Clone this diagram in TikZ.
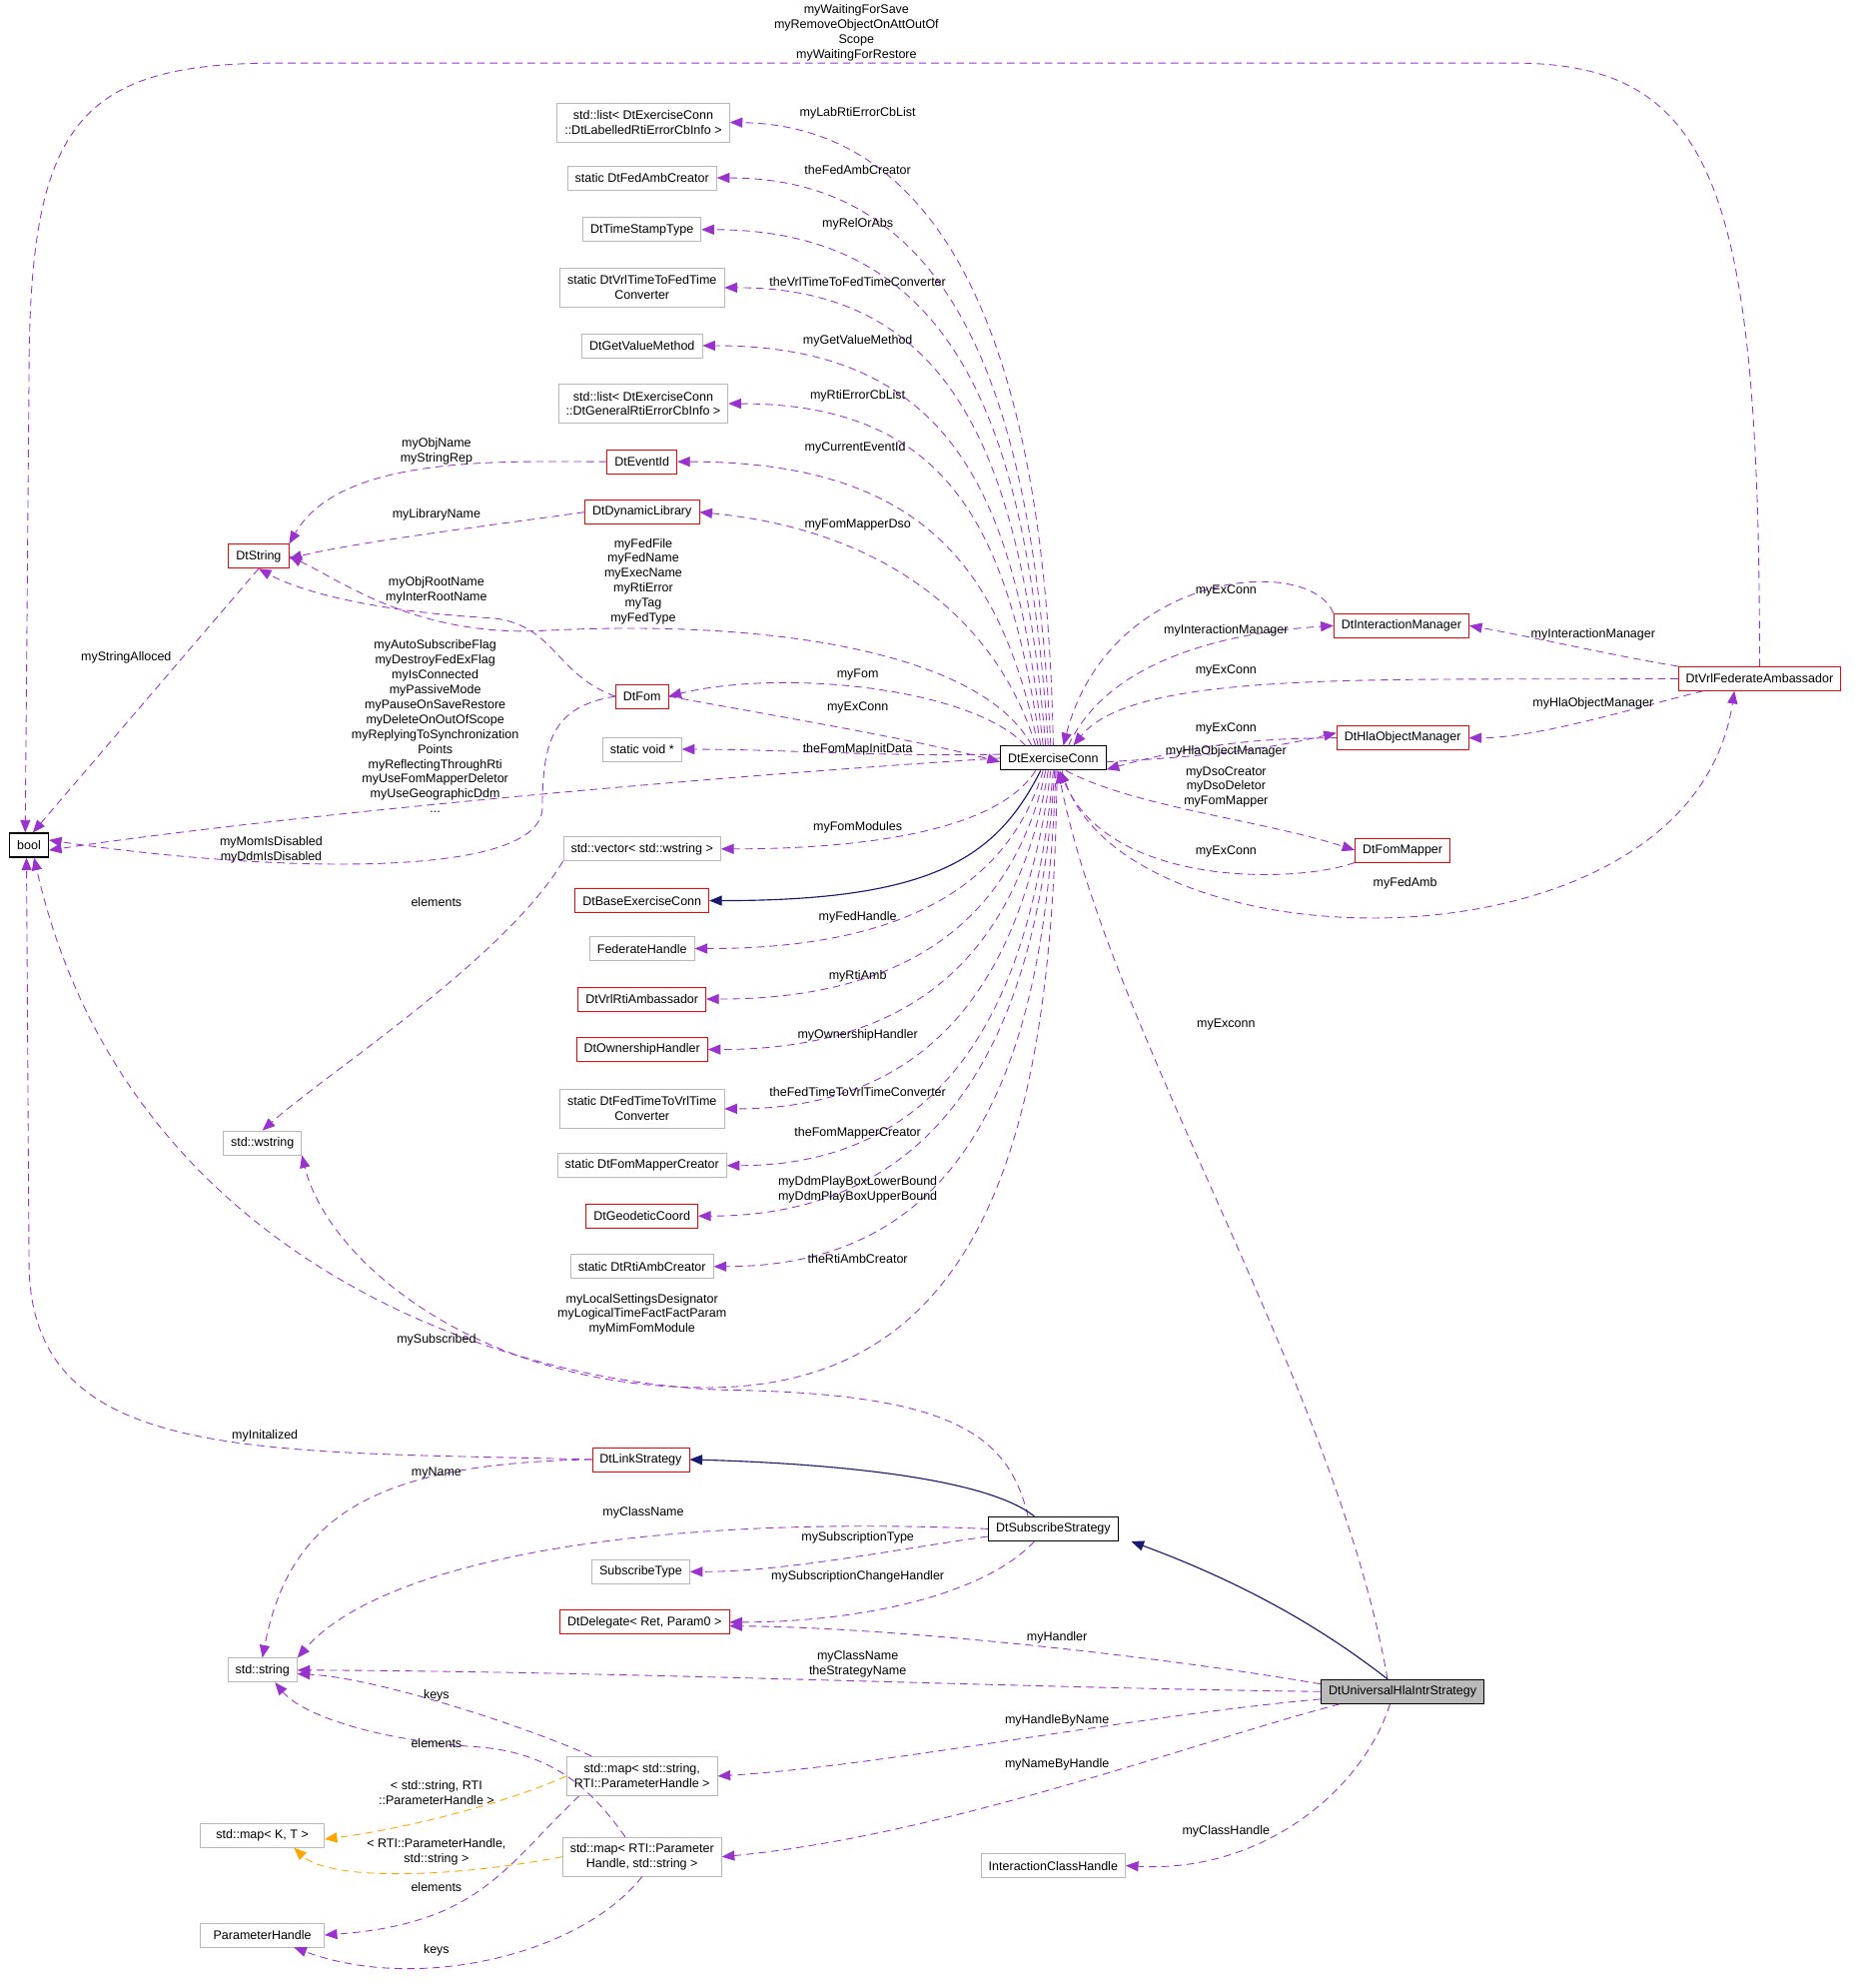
\documentclass[tikz,border=0pt]{standalone}
\usepackage{fontspec}
\setmainfont{Liberation Sans}
\usetikzlibrary{arrows.meta}
\definecolor{usec}{HTML}{9A32CD}
\definecolor{inh}{HTML}{191970}
\definecolor{tpl}{HTML}{FFA500}
\newcommand{\lt}{\textless}
\newcommand{\gt}{\textgreater}
\begin{document}
\begin{tikzpicture}[x=1pt,y=-1pt,
  font=\fontsize{9.9}{11.8}\selectfont,
  box/.style={draw,inner xsep=6pt,inner ysep=0pt,minimum height=19pt,align=center,line width=0.6pt},
  gb/.style={box,draw=black!28},
  rb/.style={box,draw=red},
  kb/.style={box,draw=black,line width=0.9pt},
  lab/.style={align=center,inner sep=0pt},
  use/.style={draw=usec,dash pattern=on 6pt off 4pt,line width=0.7pt,-{Triangle[length=10pt,width=8pt,fill=usec]}},
  inhe/.style={draw=inh,line width=0.9pt,-{Triangle[length=10pt,width=8pt,fill=inh]}},
  tp/.style={draw=tpl,dash pattern=on 6pt off 4pt,line width=0.7pt,-{Triangle[length=10pt,width=8pt,fill=tpl]}}]
\useasboundingbox (0,0) rectangle (1476,1576);
% left
\node[kb] (bool) at (23,670) {bool};
\node[rb] (dts) at (205,441) {DtString};
\node[gb] (ws) at (208,906) {std::wstring};
\node[gb] (sts) at (208,1324) {std::string};
\node[gb,minimum width=98pt] (mk) at (208,1455) {std::map\lt{} K, T \gt};
\node[gb,minimum width=98pt] (ph) at (208,1534) {ParameterHandle};
% middle
\node[gb,minimum height=31pt] (l1) at (510,97) {std::list\lt{} DtExerciseConn\\::DtLabelledRtiErrorCbInfo \gt};
\node[gb] (fac) at (509,141) {static DtFedAmbCreator};
\node[gb] (tst) at (509,182) {DtTimeStampType};
\node[gb,minimum height=31pt] (v2f) at (509,228) {static DtVrlTimeToFedTime\\Converter};
\node[gb] (gvm) at (509,274) {DtGetValueMethod};
\node[gb,minimum height=31pt] (l2) at (510,320) {std::list\lt{} DtExerciseConn\\::DtGeneralRtiErrorCbInfo \gt};
\node[rb] (eid) at (509,366) {DtEventId};
\node[rb] (dl) at (509,406) {DtDynamicLibrary};
\node[rb] (fom) at (509,552) {DtFom};
\node[gb] (sv) at (509,594) {static void *};
\node[gb] (vec) at (509,673) {std::vector\lt{} std::wstring \gt};
\node[rb] (bec) at (509,714) {DtBaseExerciseConn};
\node[gb] (fh) at (509,752) {FederateHandle};
\node[rb] (vra) at (509,792) {DtVrlRtiAmbassador};
\node[rb] (own) at (509,832) {DtOwnershipHandler};
\node[gb,minimum height=31pt] (f2v) at (509,879) {static DtFedTimeToVrlTime\\Converter};
\node[gb] (fmc) at (509,924) {static DtFomMapperCreator};
\node[rb] (geo) at (509,964) {DtGeodeticCoord};
\node[gb] (rac) at (509,1004) {static DtRtiAmbCreator};
\node[rb] (ls) at (508,1157) {DtLinkStrategy};
\node[gb] (st) at (508,1246) {SubscribeType};
\node[rb] (dd) at (511,1286) {DtDelegate\lt{} Ret, Param0 \gt};
\node[gb,minimum height=31pt] (m1) at (509,1408) {std::map\lt{} std::string,\\RTI::ParameterHandle \gt};
\node[gb,minimum height=31pt] (m2) at (509,1472) {std::map\lt{} RTI::Parameter\\Handle, std::string \gt};
% right
\node[kb] (ec) at (835,601) {DtExerciseConn};
\node[rb] (im) at (1111,496) {DtInteractionManager};
\node[rb] (hom) at (1112,585) {DtHlaObjectManager};
\node[rb] (fm) at (1112,674) {DtFomMapper};
\node[rb] (fa) at (1395,538) {DtVrlFederateAmbassador};
\node[kb] (ss) at (835,1212) {DtSubscribeStrategy};
\node[kb,fill=black!27] (u) at (1112,1341) {DtUniversalHlaIntrStrategy};
\node[gb] (ich) at (835,1479) {InteractionClassHandle};

% fan from ec up
\draw[use] ([xshift=0pt]ec.north) .. controls (830,300) and (760,100) .. (l1.east);
\draw[use] ([xshift=-2pt]ec.north) .. controls (820,320) and (760,141) .. (fac.east);
\draw[use] ([xshift=-4pt]ec.north) .. controls (815,340) and (760,182) .. (tst.east);
\draw[use] ([xshift=-6pt]ec.north) .. controls (810,370) and (760,228) .. (v2f.east);
\draw[use] ([xshift=-8pt]ec.north) .. controls (805,400) and (760,274) .. (gvm.east);
\draw[use] ([xshift=-10pt]ec.north) .. controls (800,430) and (760,320) .. (l2.east);
\draw[use] ([xshift=-12pt]ec.north) .. controls (795,460) and (740,366) .. (eid.east);
\draw[use] ([xshift=-14pt]ec.north) .. controls (790,490) and (700,420) .. (dl.east);
\draw[use] ([xshift=-17pt]ec.north) .. controls (780,520) and (620,490) .. (430,500) .. controls (330,505) and (270,460) .. (dts.east);
\draw[use] ([xshift=-22pt]ec.north) .. controls (770,545) and (620,530) .. (fom.east);
\draw[use] (fom.east) .. controls (600,565) and (720,585) .. ([yshift=-3pt]ec.west);
\draw[use] ([yshift=3pt]ec.west) .. controls (700,600) and (620,594) .. (sv.east);
\draw[use] (ec.west) .. controls (500,620) and (200,650) .. ([yshift=-4pt]bool.east);
% fan down
\draw[use] ([xshift=-14pt]ec.south) .. controls (790,660) and (680,673) .. (vec.east);
\draw[inhe] ([xshift=-10pt]ec.south) .. controls (790,680) and (740,714) .. (bec.east);
\draw[use] ([xshift=-8pt]ec.south) .. controls (800,700) and (720,752) .. (fh.east);
\draw[use] ([xshift=-6pt]ec.south) .. controls (805,720) and (730,792) .. (vra.east);
\draw[use] ([xshift=-4pt]ec.south) .. controls (810,740) and (740,832) .. (own.east);
\draw[use] ([xshift=-2pt]ec.south) .. controls (815,760) and (750,879) .. (f2v.east);
\draw[use] ([xshift=0pt]ec.south) .. controls (820,780) and (760,924) .. (fmc.east);
\draw[use] ([xshift=1pt]ec.south) .. controls (825,800) and (760,964) .. (geo.east);
\draw[use] ([xshift=2pt]ec.south) .. controls (830,840) and (770,1004) .. (rac.east);
\draw[use] ([xshift=3pt]ec.south) .. controls (835,900) and (780,1100) .. (560,1100) .. controls (380,1100) and (260,1000) .. (ws.south east);
% left edges
\draw[use] (eid.west) .. controls (400,366) and (270,360) .. (dts.north east);
\draw[use] (dl.west) .. controls (400,415) and (280,430) .. ([yshift=-2pt]dts.east);
\draw[use] (fom.west) .. controls (440,535) and (440,495) .. (390,490) .. controls (300,485) and (240,470) .. (dts.south);
\draw[use] (fom.west) .. controls (440,560) and (430,585) .. (430,640) .. controls (430,700) and (200,690) .. ([yshift=4pt]bool.east);
\draw[use] (dts.south) -- ([xshift=3pt]bool.north);
\draw[use] (vec.south west) .. controls (400,760) and (260,850) .. (ws.north);
\draw[use] (fa.north) .. controls (1395,150) and (1360,50) .. (1200,50) -- (220,50) .. controls (60,50) and (23,100) .. (23,300) -- ([xshift=-3pt]bool.north);
% right edges
\draw[use] ([xshift=12pt]ec.north) .. controls (880,520) and (980,501) .. (im.west);
\draw[use] (im.north west) .. controls (1040,440) and (880,450) .. ([xshift=8pt]ec.north);
\draw[use] ([yshift=-3pt]ec.east) .. controls (950,600) and (1000,595) .. ([yshift=4pt]hom.west);
\draw[use] (hom.west) .. controls (1000,585) and (950,590) .. ([yshift=-9pt]ec.east);
\draw[use] ([xshift=10pt]ec.south) .. controls (900,640) and (1000,650) .. (fm.west);
\draw[use] (fm.south west) .. controls (1030,700) and (880,705) .. ([xshift=5pt]ec.south);
\draw[use] (fa.west) .. controls (1100,540) and (900,530) .. ([xshift=16pt]ec.north);
\draw[use] (fa.north west) .. controls (1280,520) and (1220,506) .. (im.east);
\draw[use] ([xshift=20pt]fa.south west) .. controls (1300,560) and (1220,585) .. (hom.east);
\draw[use] ([xshift=7pt]ec.south) .. controls (880,770) and (1340,780) .. ([xshift=-20pt]fa.south);
\draw[use] ([xshift=-12pt]u.north) .. controls (1060,1100) and (880,820) .. ([xshift=4pt]ec.south);
% bottom
\draw[use] ([xshift=-20pt]ss.north) .. controls (800,1140) and (760,1105) .. (580,1102) .. controls (400,1098) and (100,1000) .. ([xshift=4pt]bool.south);
\draw[use] (ls.west) .. controls (200,1150) and (23,1160) .. (23,1000) -- ([xshift=-2pt]bool.south);
\draw[inhe] ([xshift=-15pt]ss.north) .. controls (780,1170) and (650,1160) .. (ls.east);
\draw[inhe] ([xshift=-12pt]u.north) .. controls (1060,1300) and (1000,1260) .. ([xshift=10pt]ss.south east);
\draw[use] (ls.west) .. controls (300,1160) and (230,1200) .. (sts.north);
\draw[use] (ss.west) .. controls (500,1200) and (300,1240) .. (sts.north east);
\draw[use] ([yshift=-6pt]ss.west) .. controls (700,1230) and (620,1246) .. (st.east);
\draw[use] ([xshift=-15pt]ss.south) .. controls (780,1265) and (680,1286) .. (dd.east);
\draw[use] ([yshift=6pt]u.west) .. controls (900,1310) and (700,1290) .. ([yshift=-3pt]dd.east);
\draw[use] (u.west) .. controls (800,1338) and (500,1325) .. (sts.east);
\draw[use] ([yshift=-6pt]u.west) .. controls (900,1360) and (700,1400) .. (m1.east);
\draw[use] ([xshift=-50pt]u.south) .. controls (950,1380) and (750,1455) .. (m2.east);
\draw[use] ([xshift=-10pt]u.south) .. controls (1080,1420) and (1000,1485) .. (ich.east);
\draw[use] ([xshift=20pt]m1.north west) .. controls (420,1370) and (300,1330) .. ([yshift=-3pt]sts.east);
\draw[use] ([xshift=50pt]m2.north west) .. controls (470,1420) and (440,1390) .. (380,1385) .. controls (300,1380) and (240,1360) .. ([xshift=10pt]sts.south);
\draw[tp] (m1.west) .. controls (400,1430) and (320,1450) .. ([yshift=-3pt]mk.east);
\draw[tp] (m2.west) .. controls (350,1490) and (260,1490) .. ([xshift=25pt]mk.south);
\draw[use] ([xshift=10pt]m1.south west) .. controls (400,1480) and (380,1525) .. (ph.east);
\draw[use] (m2.south) .. controls (460,1550) and (330,1580) .. ([xshift=25pt]ph.south);

% labels
\node[lab] (a1) at (680,90) {myLabRtiErrorCbList};
\node[lab] (a2) at (680,135) {theFedAmbCreator};
\node[lab] (a3) at (680,178) {myRelOrAbs};
\node[lab] (a4) at (680,223) {theVrlTimeToFedTimeConverter};
\node[lab] (a5) at (680,270) {myGetValueMethod};
\node[lab] (a6) at (680,314) {myRtiErrorCbList};
\node[lab] (a7) at (678,355) {myCurrentEventId};
\node[lab] (a8) at (680,416) {myFomMapperDso};
\node[lab] (a9) at (510,461) {myFedFile\\myFedName\\myExecName\\myRtiError\\myTag\\myFedType};
\node[lab] (a10) at (680,535) {myFom};
\node[lab] (a11) at (680,561) {myExConn};
\node[lab] (a12) at (680,594) {theFomMapInitData};
\node[lab] (a13) at (345,576) {myAutoSubscribeFlag\\myDestroyFedExFlag\\myIsConnected\\myPassiveMode\\myPauseOnSaveRestore\\myDeleteOnOutOfScope\\myReplyingToSynchronization\\Points\\myReflectingThroughRti\\myUseFomMapperDeletor\\myUseGeographicDdm\\...};
\node[lab] (a14) at (680,656) {myFomModules};
\node[lab] (a15) at (680,727) {myFedHandle};
\node[lab] (a16) at (680,774) {myRtiAmb};
\node[lab] (a17) at (680,821) {myOwnershipHandler};
\node[lab] (a18) at (680,866) {theFedTimeToVrlTimeConverter};
\node[lab] (a19) at (680,898) {theFomMapperCreator};
\node[lab] (a20) at (680,943) {myDdmPlayBoxLowerBound\\myDdmPlayBoxUpperBound};
\node[lab] (a21) at (680,998) {theRtiAmbCreator};
\node[lab] (a22) at (509,1042) {myLocalSettingsDesignator\\myLogicalTimeFactFactParam\\myMimFomModule};
\node[lab] (a23) at (346,358) {myObjName\\myStringRep};
\node[lab] (a24) at (346,408) {myLibraryName};
\node[lab] (a25) at (346,468) {myObjRootName\\myInterRootName};
\node[lab] (a26) at (215,674) {myMomIsDisabled\\myDdmIsDisabled};
\node[lab] (a27) at (100,521) {myStringAlloced};
\node[lab] (a28) at (346,715) {elements};
\node[lab] (a29) at (679,26) {myWaitingForSave\\myRemoveObjectOnAttOutOf\\Scope\\myWaitingForRestore};
\node[lab] (a30) at (972,468) {myExConn};
\node[lab] (a31) at (972,500) {myInteractionManager};
\node[lab] (a32) at (972,532) {myExConn};
\node[lab] (a33) at (972,578) {myExConn};
\node[lab] (a34) at (972,596) {myHlaObjectManager};
\node[lab] (a35) at (972,624) {myDsoCreator\\myDsoDeletor\\myFomMapper};
\node[lab] (a36) at (972,675) {myExConn};
\node[lab] (a37) at (1114,700) {myFedAmb};
\node[lab] (a38) at (1263,503) {myInteractionManager};
\node[lab] (a39) at (1263,558) {myHlaObjectManager};
\node[lab] (a40) at (972,812) {myExconn};
\node[lab] (a41) at (346,1062) {mySubscribed};
\node[lab] (a42) at (210,1138) {myInitalized};
\node[lab] (a43) at (346,1168) {myName};
\node[lab] (a44) at (510,1199) {myClassName};
\node[lab] (a45) at (680,1219) {mySubscriptionType};
\node[lab] (a46) at (680,1250) {mySubscriptionChangeHandler};
\node[lab] (a47) at (838,1298) {myHandler};
\node[lab] (a48) at (680,1319) {myClassName\\theStrategyName};
\node[lab] (a49) at (838,1364) {myHandleByName};
\node[lab] (a50) at (838,1399) {myNameByHandle};
\node[lab] (a51) at (972,1452) {myClassHandle};
\node[lab] (a52) at (346,1344) {keys};
\node[lab] (a53) at (346,1382) {elements};
\node[lab] (a54) at (346,1421) {\lt{} std::string, RTI\\::ParameterHandle \gt};
\node[lab] (a55) at (346,1468) {\lt{} RTI::ParameterHandle,\\std::string \gt};
\node[lab] (a56) at (346,1496) {elements};
\node[lab] (a57) at (346,1546) {keys};
\end{tikzpicture}
\end{document}
